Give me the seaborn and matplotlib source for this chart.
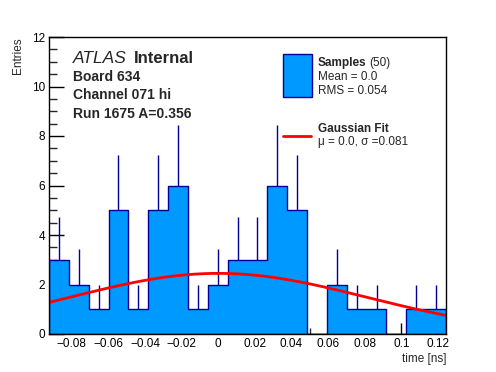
import numpy as np
import pandas as pd
import matplotlib
matplotlib.use("Agg")
import matplotlib.pyplot as plt
import seaborn as sns
from matplotlib.ticker import MultipleLocator
from matplotlib.patches import Rectangle
from matplotlib.lines import Line2D

# ---- data ----
x_min, x_max = -0.0925, 0.1244
n_bins = 20
counts = [3, 2, 1, 5, 1, 5, 6, 1, 2, 3, 3, 6, 5, 0, 2, 1, 1, 0, 1, 1]
fit_amp, fit_mu, fit_sigma = 2.45, 0.0, 0.081
x_ticks = [-0.08, -0.06, -0.04, -0.02, 0, 0.02, 0.04, 0.06, 0.08, 0.1, 0.12]
x_tick_labels = ["\u22120.08", "\u22120.06", "\u22120.04", "\u22120.02", "0",
                 "0.02", "0.04", "0.06", "0.08", "0.1", "0.12"]
y_ticks = [0, 2, 4, 6, 8, 10, 12]

sns.set_style("ticks")
plt.rcParams['font.family'] = ['Liberation Sans', 'DejaVu Sans']

edges = np.linspace(x_min, x_max, n_bins + 1)
centers = 0.5 * (edges[:-1] + edges[1:])
df = pd.DataFrame({"time": centers, "n": counts})

fig = plt.figure(figsize=(4.96, 3.72), dpi=100)
ax = fig.add_axes([49/496, 38/372, 397/496, 297/372])

fill_col = "#0099ff"
edge_col = "#000099"

sns.histplot(data=df, x="time", weights="n", bins=n_bins,
             binrange=(x_min, x_max), element="step",
             fill=True, color=fill_col, alpha=1.0, edgecolor=edge_col,
             linewidth=1.0, ax=ax)

# error bars (upper part visible)
cnt = np.array(counts, dtype=float)
m = cnt > 0
ax.vlines(centers[m], cnt[m], cnt[m] + np.sqrt(cnt[m]), color=edge_col, lw=1.0)

# Gaussian fit
xf = np.linspace(x_min, x_max, 400)
yf = fit_amp * np.exp(-0.5 * ((xf - fit_mu) / fit_sigma) ** 2)
sns.lineplot(x=xf, y=yf, color="red", lw=2.0, ax=ax)

ax.set_xlim(x_min, x_max)
ax.set_ylim(0, 12)
ax.set_xticks(x_ticks)
ax.set_xticklabels(x_tick_labels)
ax.set_yticks(y_ticks)
ax.xaxis.set_minor_locator(MultipleLocator(0.01))
ax.yaxis.set_minor_locator(MultipleLocator(0.5))
ax.tick_params(axis="both", which="major", direction="in", width=1,
               labelsize=8.5, pad=3, colors="black")
ax.tick_params(axis="x", which="major", length=8)
ax.tick_params(axis="y", which="major", length=11)
ax.tick_params(axis="x", which="minor", direction="in", length=4, width=1)
ax.tick_params(axis="y", which="minor", direction="in", length=5.5, width=1)
for s in ax.spines.values():
    s.set_linewidth(1.0)
    s.set_color("black")
    s.set_visible(True)

ax.set_xlabel("time [ns]", fontsize=8.5, loc="right", labelpad=2)
ax.set_ylabel("Entries", fontsize=8.5, loc="top")
ax.yaxis.set_label_coords(-0.064, 1.0)

# annotations
fig.text(73/496, 1 - 63/372, "ATLAS", fontsize=12.5, style="italic",
         ha="left", va="baseline")
fig.text(134/496, 1 - 63/372, "Internal", fontsize=12, fontweight="bold",
         ha="left", va="baseline")
fig.text(73/496, 1 - 81/372, "Board 634", fontsize=10, fontweight="bold",
         ha="left", va="baseline")
fig.text(73/496, 1 - 99/372, "Channel 071 hi", fontsize=10, fontweight="bold",
         ha="left", va="baseline")
fig.text(73/496, 1 - 118/372, "Run 1675 A=0.356", fontsize=10, fontweight="bold",
         ha="left", va="baseline")

# legend
fig.add_artist(Rectangle((283/496, 1 - 96.5/372), 28.5/496, 43/372,
                         transform=fig.transFigure, facecolor=fill_col,
                         edgecolor=edge_col, lw=1.0))
fig.text(318/496, 1 - 66/372, "Samples", fontsize=8.5, fontweight="bold",
         ha="left", va="baseline")
fig.text(369/496, 1 - 66/372, "(50)", fontsize=8.5, ha="left", va="baseline")
fig.text(318/496, 1 - 80.5/372, "Mean = 0.0", fontsize=8.5, ha="left", va="baseline")
fig.text(318/496, 1 - 93.5/372, "RMS = 0.054", fontsize=8.5, ha="left", va="baseline")
fig.add_artist(Line2D([283/496, 311/496], [1 - 136/372, 1 - 136/372],
                      transform=fig.transFigure, color="red", lw=2.0))
fig.text(318/496, 1 - 132.5/372, "Gaussian Fit", fontsize=8.5, fontweight="bold",
         ha="left", va="baseline")
fig.text(318/496, 1 - 145/372, "\u03bc = 0.0, \u03c3 =0.081", fontsize=8.5,
         ha="left", va="baseline")

fig.savefig("out.png", dpi=100)
